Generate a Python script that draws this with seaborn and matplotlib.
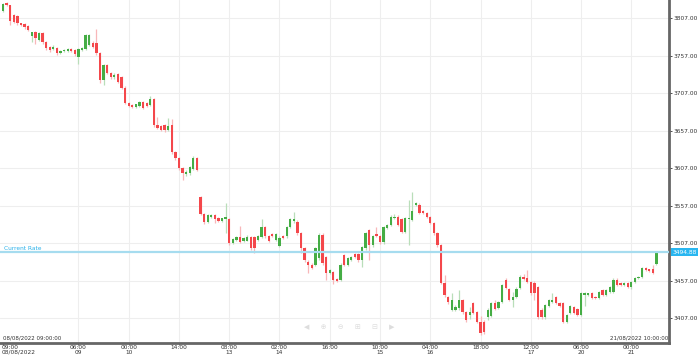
import numpy as np
import pandas as pd
import matplotlib
matplotlib.use("Agg")
import matplotlib.pyplot as plt
import matplotlib.transforms as mtransforms
import seaborn as sns

# hourly candles
opens = [3816, 3827, 3824, 3811, 3810, 3800, 3799, 3796, 3783, 3788,
         3778, 3787, 3775, 3768, 3766, 3767, 3760, 3763, 3763, 3766,
         3764, 3755, 3764, 3766, 3771, 3774, 3774, 3760, 3724, 3744,
         3734, 3728, 3732, 3728, 3714, 3694, 3691, 3688, 3690, 3695,
         3694, 3691, 3699, 3664, 3663, 3664, 3658, 3664, 3628, 3620,
         3607, 3599, 3600, 3606, 3620, 3568, 3546, 3535, 3542, 3544,
         3540, 3536, 3539, 3539, 3507, 3511, 3515, 3510, 3510, 3515,
         3515, 3511, 3515, 3528, 3516, 3519, 3511, 3503, 3516, 3516,
         3528, 3536, 3535, 3520, 3500, 3482, 3478, 3478, 3487, 3518,
         3488, 3467, 3468, 3459, 3458, 3491, 3478, 3484, 3492, 3492,
         3484, 3500, 3524, 3504, 3519, 3516, 3508, 3527, 3531, 3540,
         3542, 3539, 3522, 3539, 3538, 3558, 3558, 3550, 3547, 3542,
         3534, 3520, 3504, 3454, 3435, 3418, 3418, 3420, 3431, 3415,
         3411, 3427, 3415, 3402, 3402, 3408, 3410, 3427, 3420, 3428,
         3458, 3446, 3431, 3435, 3447, 3462, 3460, 3455, 3454, 3448,
         3418, 3408, 3423, 3428, 3435, 3427, 3427, 3402, 3414, 3422,
         3419, 3411, 3438, 3438, 3440, 3435, 3434, 3444, 3438, 3442,
         3442, 3458, 3454, 3451, 3454, 3448, 3455, 3460, 3462, 3474,
         3472, 3472, 3479]
highs = [3827, 3829, 3825, 3812, 3811, 3801, 3800, 3798, 3789, 3790,
         3789, 3788, 3776, 3770, 3771, 3768, 3764, 3766, 3767, 3767,
         3766, 3767, 3768, 3786, 3786, 3776, 3792, 3762, 3746, 3746,
         3735, 3734, 3734, 3730, 3716, 3695, 3692, 3693, 3697, 3697,
         3695, 3703, 3701, 3675, 3665, 3666, 3674, 3672, 3630, 3622,
         3609, 3604, 3610, 3623, 3622, 3570, 3547, 3546, 3546, 3546,
         3542, 3541, 3560, 3541, 3514, 3516, 3530, 3515, 3518, 3517,
         3517, 3518, 3539, 3530, 3518, 3520, 3520, 3516, 3518, 3530,
         3541, 3548, 3538, 3522, 3502, 3484, 3480, 3502, 3520, 3520,
         3490, 3472, 3470, 3460, 3480, 3493, 3488, 3490, 3494, 3494,
         3503, 3522, 3526, 3518, 3528, 3518, 3530, 3533, 3544, 3546,
         3544, 3540, 3542, 3565, 3575, 3562, 3560, 3551, 3548, 3543,
         3535, 3522, 3506, 3464, 3437, 3440, 3424, 3444, 3433, 3416,
         3422, 3429, 3416, 3410, 3404, 3420, 3429, 3431, 3430, 3453,
         3460, 3447, 3442, 3448, 3464, 3466, 3471, 3456, 3456, 3450,
         3420, 3426, 3432, 3440, 3437, 3428, 3428, 3412, 3424, 3423,
         3420, 3442, 3442, 3441, 3442, 3436, 3443, 3446, 3446, 3450,
         3460, 3460, 3455, 3455, 3455, 3456, 3462, 3463, 3475, 3475,
         3473, 3478, 3495]
lows = [3815, 3823, 3798, 3800, 3798, 3796, 3793, 3790, 3775, 3773,
        3776, 3772, 3764, 3762, 3764, 3758, 3759, 3762, 3762, 3762,
        3757, 3746, 3763, 3764, 3770, 3767, 3758, 3720, 3718, 3732,
        3726, 3726, 3720, 3712, 3692, 3688, 3687, 3687, 3689, 3686,
        3688, 3690, 3662, 3659, 3656, 3655, 3656, 3626, 3618, 3604,
        3591, 3597, 3598, 3604, 3603, 3544, 3532, 3534, 3541, 3534,
        3535, 3535, 3520, 3504, 3506, 3510, 3507, 3508, 3510, 3498,
        3494, 3510, 3514, 3514, 3508, 3515, 3510, 3502, 3512, 3514,
        3527, 3534, 3518, 3494, 3482, 3467, 3472, 3476, 3485, 3478,
        3458, 3466, 3453, 3455, 3456, 3476, 3476, 3483, 3487, 3482,
        3475, 3498, 3484, 3502, 3515, 3506, 3506, 3526, 3530, 3539,
        3530, 3520, 3520, 3504, 3536, 3556, 3546, 3546, 3540, 3532,
        3518, 3502, 3452, 3435, 3426, 3417, 3416, 3418, 3413, 3402,
        3406, 3412, 3400, 3385, 3386, 3404, 3408, 3418, 3419, 3427,
        3446, 3430, 3422, 3434, 3446, 3458, 3454, 3438, 3431, 3406,
        3406, 3406, 3422, 3427, 3426, 3422, 3400, 3400, 3413, 3413,
        3410, 3410, 3423, 3437, 3432, 3432, 3432, 3436, 3436, 3440,
        3440, 3450, 3450, 3450, 3447, 3446, 3454, 3459, 3460, 3470,
        3468, 3466, 3478]
closes = [3826, 3824, 3803, 3802, 3800, 3798, 3795, 3791, 3788, 3780,
          3787, 3775, 3767, 3764, 3768, 3760, 3763, 3764, 3766, 3763,
          3759, 3766, 3767, 3784, 3784, 3768, 3760, 3724, 3744, 3734,
          3728, 3731, 3722, 3714, 3694, 3690, 3688, 3692, 3695, 3687,
          3690, 3699, 3664, 3660, 3658, 3658, 3663, 3628, 3620, 3607,
          3600, 3602, 3608, 3620, 3604, 3546, 3535, 3544, 3544, 3539,
          3536, 3540, 3542, 3507, 3512, 3515, 3508, 3514, 3515, 3500,
          3500, 3516, 3528, 3516, 3510, 3516, 3519, 3514, 3514, 3528,
          3539, 3539, 3520, 3500, 3484, 3478, 3474, 3500, 3518, 3480,
          3467, 3471, 3458, 3456, 3478, 3478, 3487, 3488, 3488, 3484,
          3502, 3520, 3504, 3516, 3516, 3508, 3528, 3531, 3542, 3542,
          3531, 3522, 3540, 3540, 3550, 3560, 3547, 3547, 3542, 3534,
          3520, 3504, 3454, 3438, 3428, 3431, 3422, 3431, 3415, 3404,
          3415, 3414, 3402, 3387, 3388, 3418, 3427, 3419, 3428, 3451,
          3447, 3431, 3435, 3446, 3462, 3459, 3455, 3440, 3440, 3408,
          3408, 3424, 3431, 3431, 3427, 3423, 3402, 3411, 3423, 3414,
          3411, 3440, 3440, 3440, 3434, 3434, 3442, 3438, 3444, 3448,
          3458, 3451, 3451, 3454, 3448, 3455, 3460, 3462, 3474, 3471,
          3470, 3467, 3494.88]

tick_pos = [0, 21, 35, 49, 63, 77, 91, 105, 119, 133, 147, 161, 175]
tick_labels = ["09:00\n08/08/2022", "06:00\n09", "00:00\n10", "14:00",
               "08:00\n13", "02:00\n14", "16:00", "10:00\n15", "04:00\n16",
               "18:00", "12:00\n17", "06:00\n20", "00:00\n21"]
price_ticks = [3407, 3457, 3507, 3557, 3607, 3657, 3707, 3757, 3807]
current_rate = 3494.88
start_label = "08/08/2022 09:00:00"
end_label = "21/08/2022 10:00:00"

n = min(len(opens), len(highs), len(lows), len(closes))
df = pd.DataFrame({"o": opens[:n], "h": highs[:n], "l": lows[:n], "c": closes[:n]})
df["i"] = np.arange(n)
df["up"] = df["c"] >= df["o"]

sns.set_theme(style="white")
plt.rcParams["font.family"] = ["DejaVu Sans"]

fig = plt.figure(figsize=(6.99, 3.55), dpi=100)
ax = fig.add_axes([0, 12 / 355, 669 / 699, 343 / 355])

GREEN, RED = "#45ad45", "#f4474b"
GREEN_W, RED_W = "#b9deb9", "#f8b7b9"

ax.set_xlim(-0.85, 185.5)
ax.set_ylim(3373.7, 3831)

# grid
for p in price_ticks:
    ax.axhline(p, color="#eeeeee", lw=0.8, zorder=0)
for t in tick_pos[1:]:
    ax.axvline(t, color="#eeeeee", lw=0.8, zorder=0)

# wicks
for up, wc in [(True, GREEN_W), (False, RED_W)]:
    d = df[df["up"] == up]
    ax.vlines(d["i"], d["l"], d["h"], color=wc, lw=0.9, zorder=1)

# bodies
for up, bc in [(True, GREEN), (False, RED)]:
    d = df[df["up"] == up]
    bottom = np.minimum(d["o"], d["c"])
    height = np.maximum(np.abs(d["c"] - d["o"]), 1.0)
    ax.bar(d["i"], height, bottom=bottom, width=0.64, color=bc, lw=0, zorder=2)

# current rate
blend = mtransforms.blended_transform_factory(ax.transAxes, ax.transData)
ax.axhline(current_rate, color="#a6dcef", lw=1.6, zorder=3)
ax.text(4 / 669, current_rate + 2, "Current Rate", color="#29b1ea",
        fontsize=4.2, va="bottom", ha="left", transform=blend)
ax.text(1.005, current_rate, f"{current_rate:.2f}", color="white", fontsize=4.3,
        va="center", ha="left", clip_on=False, transform=blend,
        bbox=dict(boxstyle="square,pad=0.25", fc="#29b6f0", ec="none"))

# axes styling
sns.despine(ax=ax, left=True, top=True, right=False, bottom=False)
for side in ["right", "bottom"]:
    ax.spines[side].set_color("#666666")
    ax.spines[side].set_linewidth(2)

ax.yaxis.tick_right()
ax.set_yticks(price_ticks)
ax.set_yticklabels([f"{p:.2f}" for p in price_ticks])
ax.set_xticks(tick_pos)
ax.set_xticklabels(tick_labels, linespacing=0.9)
ax.tick_params(axis="y", labelsize=4.2, colors="#333333", length=2, width=0.6, pad=1.5,
               right=True, left=False)
ax.tick_params(axis="x", labelsize=4.2, colors="#333333", length=1.2, width=0.6, pad=0.2,
               bottom=True)
labs = ax.get_xticklabels()
for lab in labs:
    lab.set_ha("center")
labs[0].set_ha("left")
offset = mtransforms.ScaledTranslation(-1 / 100, 0, fig.dpi_scale_trans)
labs[0].set_transform(labs[0].get_transform() + offset)
ax.set_xlabel("")
ax.set_ylabel("")

# start / end stamps
ax.text(3 / 669, 0.008, start_label, transform=ax.transAxes, fontsize=4.0,
        color="#333333", va="bottom", ha="left")
ax.text(668 / 669, 0.008, end_label, transform=ax.transAxes, fontsize=4.0,
        color="#333333", va="bottom", ha="right")

# faint navigation icons
ax.text(349 / 669, 16 / 343, "◀     ⊕     ⊖     ⊞     ⊟     ▶", transform=ax.transAxes,
        fontsize=5, color="#dddddd", ha="center", va="center")

fig.savefig("out.png", dpi=100)
